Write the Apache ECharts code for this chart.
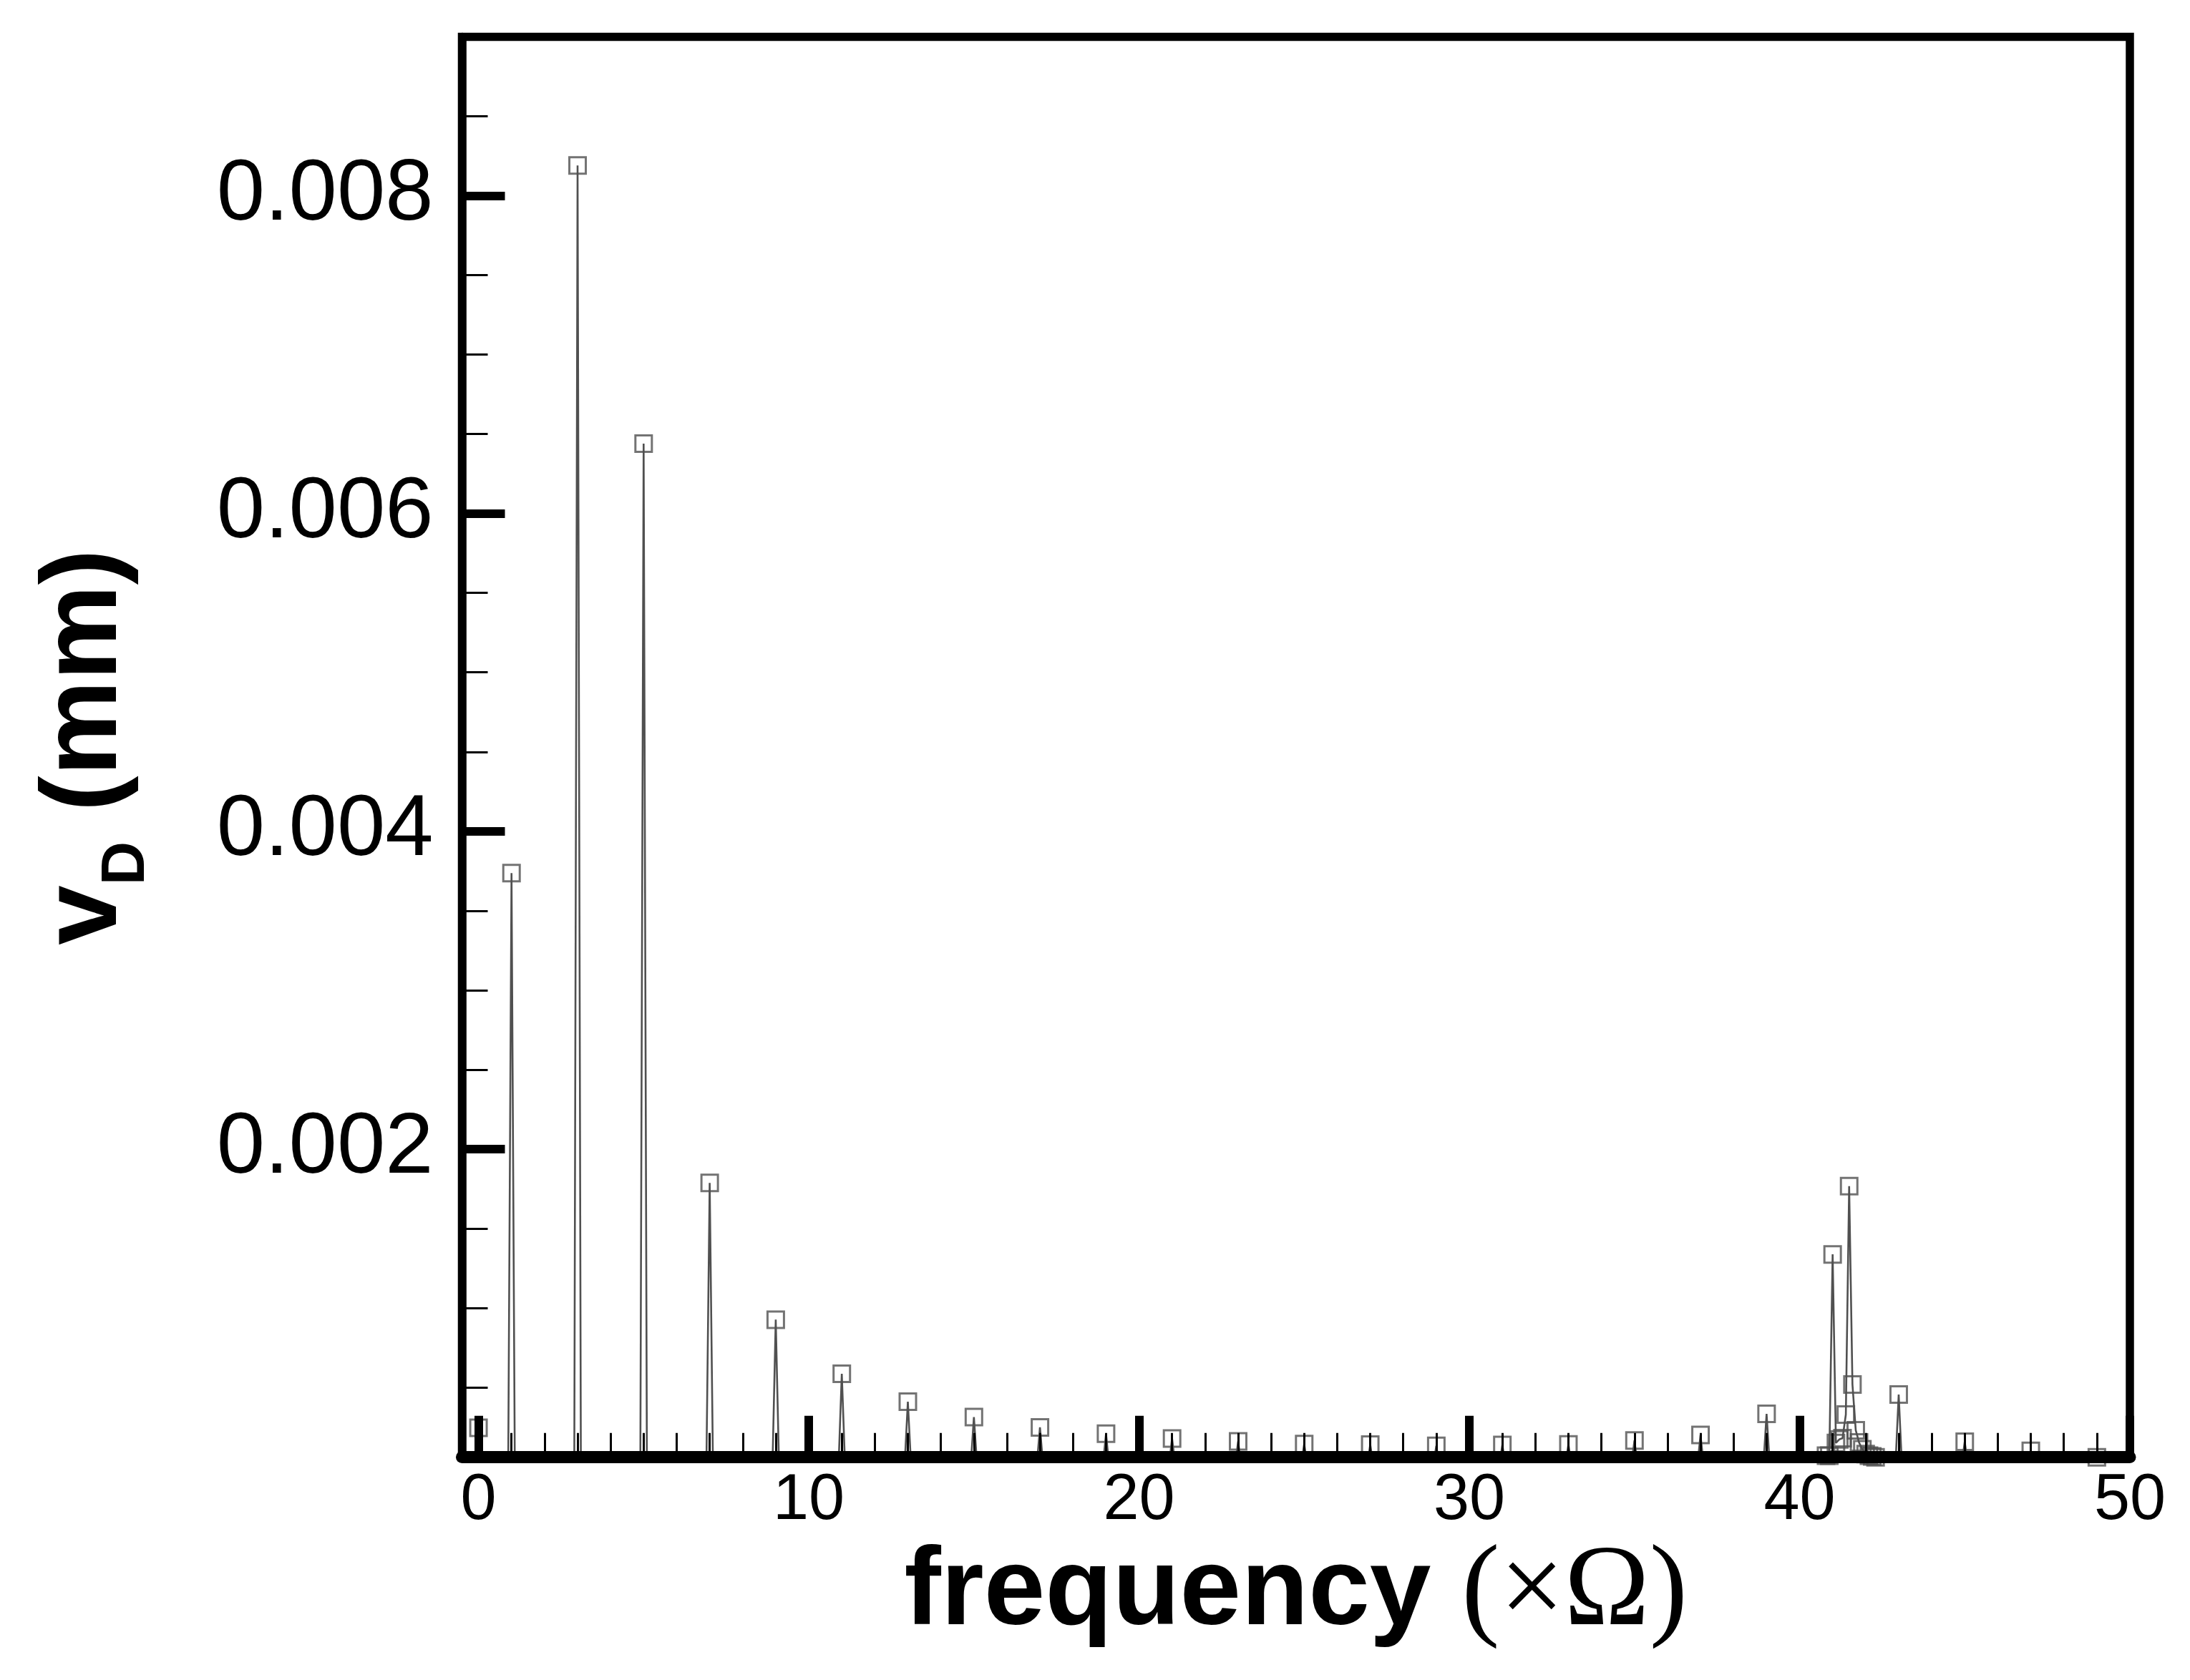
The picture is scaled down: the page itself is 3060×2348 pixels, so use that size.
<!DOCTYPE html>
<html>
<head>
<meta charset="utf-8">
<title>vD spectrum</title>
<script src="https://cdn.jsdelivr.net/npm/echarts@6/dist/echarts.min.js"></script>
<style>
  html, body { margin: 0; padding: 0; background: #fff; }
  #chart { width: 3060px; height: 2348px; }
</style>
</head>
<body>
<div id="chart"></div>
<script>
// spectrum, df = 0.1 ; the zero bins just around each harmonic are kept so the spikes close
var freq = [
  0, 0.1,
  0.9, 1, 1.1,
  2.9, 3, 3.1,
  4.9, 5, 5.1,
  6.9, 7, 7.1,
  8.9, 9, 9.1,
  10.9, 11, 11.1,
  12.9, 13, 13.1,
  14.9, 15, 15.1,
  16.9, 17, 17.1,
  18.9, 19, 19.1,
  20.9, 21, 21.1,
  22.9, 23, 23.1,
  24.9, 25, 25.1,
  26.9, 27, 27.1,
  28.9, 29, 29.1,
  30.9, 31, 31.1,
  32.9, 33, 33.1,
  34.9, 35, 35.1,
  36.9, 37, 37.1,
  38.9, 39, 39.1,
  40.7, 40.8, 40.9, 41, 41.1, 41.2, 41.3, 41.4, 41.5, 41.6, 41.7, 41.8, 41.9, 42, 42.1, 42.2, 42.3, 42.4,
  42.9, 43, 43.1,
  44.9, 45, 45.1,
  46.9, 47, 47.1,
  48.9, 49, 49.1
];
var amp = [
  0.000245, 0,
  0, 0.003737, 0,
  0, 0.00819, 0,
  0, 0.00644, 0,
  0, 0.001787, 0,
  0, 0.000926, 0,
  0, 0.000585, 0,
  0, 0.00041, 0,
  0, 0.000313, 0,
  0, 0.000248, 0,
  0, 0.000208, 0,
  0, 0.000178, 0,
  0, 0.00016, 0,
  0, 0.000143, 0,
  0, 0.00014, 0,
  0, 0.000132, 0,
  0, 0.000138, 0,
  0, 0.000141, 0,
  0, 0.000166, 0,
  0, 0.0002, 0,
  0, 0.000333, 0,
  0, 0.00007, 0.00007, 0.001337, 0.00015, 0.000172, 0.00018, 0.000329, 0.001766, 0.000518, 0.00023, 0.000153, 0.00011, 0.00008, 0.00007, 0.000065, 0.00006, 0,
  0, 0.000455, 0,
  0, 0.000158, 0,
  0, 0.0001, 0,
  0, 0.00006, 0
];

var xMajor = [0, 10, 20, 30, 40, 50];
var xMinor = [1, 2, 3, 4, 5, 6, 7, 8, 9, 11, 12, 13, 14, 15, 16, 17, 18, 19,
  21, 22, 23, 24, 25, 26, 27, 28, 29, 31, 32, 33, 34, 35, 36, 37, 38, 39,
  41, 42, 43, 44, 45, 46, 47, 48, 49];
var yMajor = [0.002, 0.004, 0.006, 0.008];
var yMinor = [0.0005, 0.001, 0.0015, 0.0025, 0.003, 0.0035, 0.0045, 0.005, 0.0055,
  0.0065, 0.007, 0.0075, 0.0085];
var xRange = [-0.5, 50];
var yRange = [0.00006, 0.009];

var linePts = freq.map(function (f, i) { return [f, amp[i]]; });
// tecplot only puts a symbol on samples that fall inside the axis range
var markPts = linePts.filter(function (p) { return p[1] >= yRange[0]; });

var chart = echarts.init(document.getElementById('chart'));
chart.setOption({
  animation: false,
  backgroundColor: '#fff',
  textStyle: { fontFamily: 'Liberation Sans' },
  grid: {
    left: 645.5, right: 84, top: 51.5, bottom: 311.3,
    show: true, borderColor: '#000', borderWidth: 11.5, backgroundColor: 'transparent'
  },
  xAxis: [{
    type: 'value', min: xRange[0], max: xRange[1], position: 'bottom', z: 5,
    axisLine: { onZero: false, lineStyle: { color: '#000', width: 17 } },
    axisTick: { inside: true, length: 58, customValues: xMajor, lineStyle: { color: '#000', width: 12 } },
    axisLabel: { customValues: xMajor, color: '#000', fontSize: 90, margin: 16 },
    splitLine: { show: false },
    name: '{a|frequency }{b|(×Ω)}',
    nameLocation: 'middle',
    nameGap: 99,
    nameTextStyle: {
      rich: {
        a: { fontFamily: 'Liberation Sans', fontWeight: 'bold', fontSize: 154, color: '#000' },
        b: { fontFamily: 'Liberation Serif', fontSize: 160, color: '#000' }
      }
    }
  }, {
    type: 'value', min: xRange[0], max: xRange[1], position: 'bottom', z: 5,
    axisLine: { show: false, onZero: false },
    axisTick: { inside: true, length: 34, customValues: xMinor, lineStyle: { color: '#000', width: 3 } },
    axisLabel: { show: false },
    splitLine: { show: false }
  }],
  yAxis: [{
    type: 'value', min: yRange[0], max: yRange[1], position: 'left', z: 5,
    axisLine: { show: true, onZero: false, lineStyle: { color: '#000', width: 11.5 } },
    axisTick: { show: true, inside: true, length: 60, customValues: yMajor, lineStyle: { color: '#000', width: 12 } },
    axisLabel: {
      customValues: yMajor, color: '#000', fontSize: 121, margin: 40,
      formatter: function (v) { return v.toFixed(3); }
    },
    splitLine: { show: false },
    name: '{v|v}{d|D}{t| (mm)}',
    nameLocation: 'middle',
    nameRotate: 90,
    nameGap: 450,
    nameTextStyle: {
      rich: {
        v: { fontFamily: 'Liberation Sans', fontWeight: 'bold', fontSize: 150, color: '#000' },
        d: { fontFamily: 'Liberation Sans', fontWeight: 'bold', fontSize: 85, color: '#000',
             lineHeight: 35, padding: [115, 0, 0, 0] },
        t: { fontFamily: 'Liberation Sans', fontWeight: 'bold', fontSize: 150, color: '#000' }
      }
    }
  }, {
    type: 'value', min: yRange[0], max: yRange[1], position: 'left', z: 5,
    axisLine: { show: false, onZero: false },
    axisTick: { show: true, inside: true, length: 36, customValues: yMinor, lineStyle: { color: '#000', width: 3 } },
    axisLabel: { show: false },
    splitLine: { show: false }
  }],
  series: [{
    type: 'line',
    data: linePts,
    showSymbol: false,
    symbol: 'none',
    lineStyle: { color: '#505050', width: 2.6 },
    z: 2
  }, {
    type: 'scatter',
    data: markPts,
    symbol: 'rect',
    symbolSize: 23,
    clip: false,
    itemStyle: { color: 'rgba(0,0,0,0)', borderColor: '#505050', borderWidth: 3 },
    z: 3
  }]
});
</script>
</body>
</html>
